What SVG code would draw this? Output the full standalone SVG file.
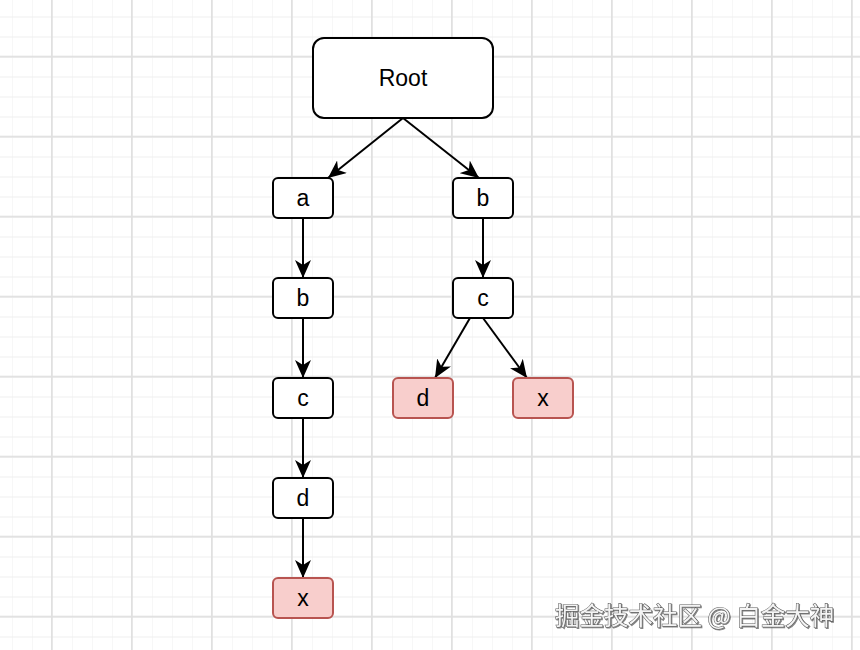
<svg xmlns="http://www.w3.org/2000/svg" width="860" height="650" viewBox="0 0 860 650">
<defs>
<style>
.minorh{stroke:#efefef;stroke-width:1}
.minorv{stroke:#f7f7f7;stroke-width:1}
.major{stroke:#e0e0e0;stroke-width:1.7}
.node rect{fill:#ffffff;stroke:#000000;stroke-width:2}
.node.hit rect{fill:#f8cecc;stroke:#b85450}
.node text{font-family:"Liberation Sans",Arial,sans-serif;font-size:23px;fill:#000;text-anchor:middle}
.edge{stroke:#000;stroke-width:2;fill:none;marker-end:url(#arr)}
.wm{font-family:"Noto Sans CJK SC","Liberation Sans",sans-serif;font-size:24.5px;fill:#f4f4f4;stroke:#5a5a5a;stroke-width:1.1;paint-order:stroke;filter:url(#sh)}
</style>
<marker id="arr" viewBox="0 0 18 16" refX="18" refY="8" markerWidth="18" markerHeight="16" markerUnits="userSpaceOnUse" orient="auto">
<path d="M0,0 L18,8 L0,16 L5,8 z" fill="#000"/>
</marker>
<filter id="sh" x="-5%" y="-20%" width="110%" height="140%">
<feDropShadow dx="1" dy="1" stdDeviation="0.6" flood-color="#333" flood-opacity="0.6"/>
</filter>
<pattern id="gminor" width="20" height="20" patternUnits="userSpaceOnUse" x="12" y="16.5">
<path d="M0.5,0 V20" class="minorv"/>
<path d="M0,0.5 H20" class="minorh"/>
</pattern>
<pattern id="gmajor" width="80" height="80" patternUnits="userSpaceOnUse" x="51" y="55.7">
<path d="M0.85,0 V80 M0,0.85 H80" class="major"/>
</pattern>
</defs>
<rect width="860" height="650" fill="#ffffff"/>
<rect width="860" height="650" fill="url(#gminor)"/>
<rect width="860" height="650" fill="url(#gmajor)"/>

<g id="connectors">
<line class="edge" x1="403" y1="118" x2="328" y2="178"/>
<line class="edge" x1="403" y1="118" x2="479" y2="178"/>
<line class="edge" x1="303" y1="218" x2="303" y2="278"/>
<line class="edge" x1="303" y1="318" x2="303" y2="378"/>
<line class="edge" x1="303" y1="418" x2="303" y2="478"/>
<line class="edge" x1="303" y1="518" x2="303" y2="578"/>
<line class="edge" x1="483" y1="218" x2="483" y2="278"/>
<line class="edge" x1="470" y1="318" x2="435" y2="378"/>
<line class="edge" x1="483" y1="318" x2="527" y2="378"/>
</g>

<g id="root" class="node"><rect x="313" y="38" width="180" height="80" rx="11"/><text x="403" y="86">Root</text></g>
<g id="a1" class="node"><rect x="273" y="178" width="60" height="40" rx="5"/><text x="303" y="206">a</text></g>
<g id="b1" class="node"><rect x="273" y="278" width="60" height="40" rx="5"/><text x="303" y="306">b</text></g>
<g id="c1" class="node"><rect x="273" y="378" width="60" height="40" rx="5"/><text x="303" y="406">c</text></g>
<g id="d1" class="node"><rect x="273" y="478" width="60" height="40" rx="5"/><text x="303" y="506">d</text></g>
<g id="x1" class="node hit"><rect x="273" y="578" width="60" height="40" rx="5"/><text x="303" y="606">x</text></g>
<g id="b2" class="node"><rect x="453" y="178" width="60" height="40" rx="5"/><text x="483" y="206">b</text></g>
<g id="c2" class="node"><rect x="453" y="278" width="60" height="40" rx="5"/><text x="483" y="306">c</text></g>
<g id="d2" class="node hit"><rect x="393" y="378" width="60" height="40" rx="5"/><text x="423" y="406">d</text></g>
<g id="x2" class="node hit"><rect x="513" y="378" width="60" height="40" rx="5"/><text x="543" y="406">x</text></g>

<text class="wm" x="555" y="625">掘金技术社区 @ 白金大神</text>
</svg>
